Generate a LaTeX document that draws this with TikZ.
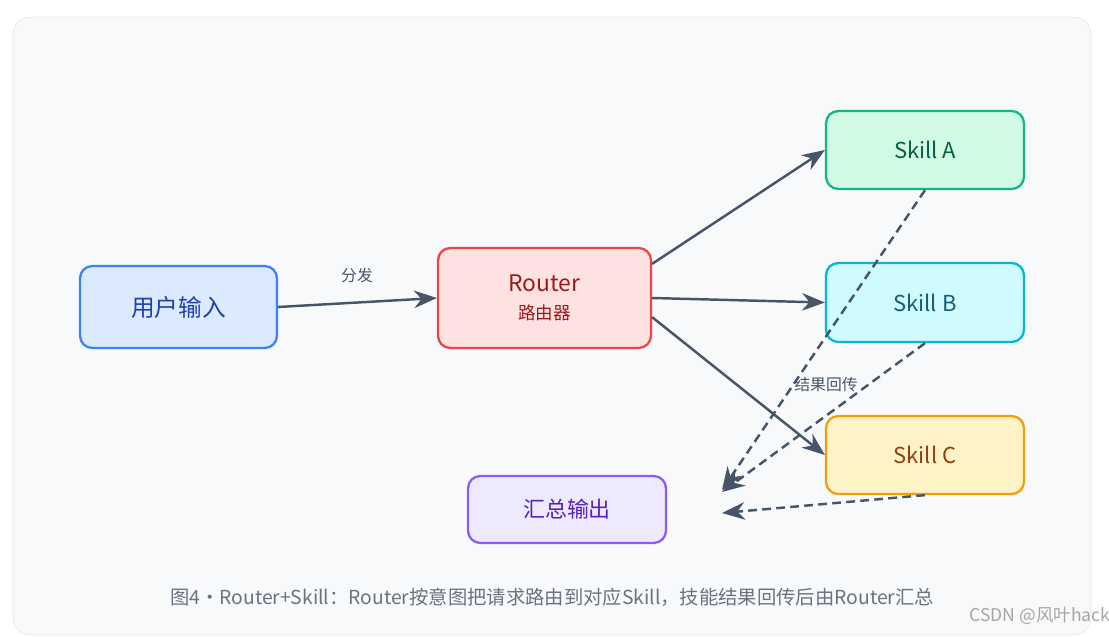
\documentclass[tikz,border=0pt]{standalone}
\usepackage{fontspec}
\setmainfont{Noto Sans CJK SC}
\usetikzlibrary{arrows.meta,positioning}
\definecolor{panelbg}{HTML}{F8F9FB}
\definecolor{panelln}{HTML}{E5E7EB}
\definecolor{arrowc}{HTML}{475569}
\definecolor{capc}{HTML}{6B7280}
\tikzset{
  box/.style={draw, rounded corners=7pt, line width=1.3pt, align=center},
  flow/.style={draw=arrowc, line width=1.4pt, -{Stealth[length=13pt,width=10pt]}},
  back/.style={flow, dashed, dash pattern=on 5pt off 3pt}
}
\begin{document}
\begin{tikzpicture}[x=0.02cm,y=-0.02cm]
  %% canvas
  \useasboundingbox (0,0) rectangle (1109,636);
  \draw[panelln, fill=panelbg, rounded corners=10pt] (13,17) rectangle (1091,635);
  %% nodes
  \node[box, draw={rgb,255:red,59;green,130;blue,246}, fill={rgb,255:red,219;green,234;blue,254}, text={rgb,255:red,30;green,64;blue,175}, minimum width=3.94cm, minimum height=1.64cm, font=\fontsize{13.5}{16}\selectfont] (input) at (178.5,307) {用户输入};
  \node[box, draw={rgb,255:red,239;green,68;blue,68}, fill={rgb,255:red,254;green,226;blue,226}, text={rgb,255:red,153;green,27;blue,27}, minimum width=4.26cm, minimum height=2cm] (router) at (544.5,298) {{\fontsize{13}{16}\selectfont Router}\\[4pt]{\fontsize{10}{12}\selectfont 路由器}};
  \node[box, draw={rgb,255:red,16;green,185;blue,129}, fill={rgb,255:red,209;green,250;blue,229}, text={rgb,255:red,6;green,95;blue,70}, minimum width=3.96cm, minimum height=1.56cm, font=\fontsize{12.5}{15}\selectfont] (skillA) at (925,150) {Skill A};
  \node[box, draw={rgb,255:red,6;green,182;blue,212}, fill={rgb,255:red,207;green,250;blue,254}, text={rgb,255:red,21;green,94;blue,117}, minimum width=3.96cm, minimum height=1.58cm, font=\fontsize{12.5}{15}\selectfont] (skillB) at (925,302.5) {Skill B};
  \node[box, draw={rgb,255:red,245;green,158;blue,11}, fill={rgb,255:red,254;green,243;blue,199}, text={rgb,255:red,146;green,64;blue,14}, minimum width=3.96cm, minimum height=1.56cm, font=\fontsize{12.5}{15}\selectfont] (skillC) at (925,455) {Skill C};
  \node[box, draw={rgb,255:red,139;green,92;blue,246}, fill={rgb,255:red,237;green,233;blue,254}, text={rgb,255:red,91;green,33;blue,182}, minimum width=3.96cm, minimum height=1.34cm, font=\fontsize{12.5}{15}\selectfont] (output) at (567,509.5) {汇总输出};
  \coordinate (sinkA) at (722,490);
  \coordinate (sinkB) at (722,492);
  \coordinate (sinkC) at (722,513);
  %% connectors
  \draw[flow] (input.east) -- (router.west);
  \draw[flow] ([yshift=-0.34cm]router.north east) -- (skillA.west);
  \draw[flow] (router.east) -- (skillB.west);
  \draw[flow] ([yshift=0.64cm]router.south east) -- (skillC.west);
  \draw[back] (skillA.south) -- (sinkA);
  \draw[back] (skillB.south) -- (sinkB);
  \draw[back] (skillC.south) -- (sinkC);
  %% labels
  \node[text=arrowc, font=\fontsize{9}{11}\selectfont] (lblsend) at (357,275) {分发};
  \node[text=arrowc, font=\fontsize{9}{11}\selectfont] (lblback) at (826,384) {结果回传};
  \node[text=capc, font=\fontsize{11}{13}\selectfont] (caption) at (552,597) {图4·Router+Skill：Router按意图把请求路由到对应Skill，技能结果回传后由Router汇总};
  \node[text=gray!70, font=\fontsize{10}{12}\selectfont] (mark) at (1040,616) {CSDN @风叶hack};
\end{tikzpicture}
\end{document}
